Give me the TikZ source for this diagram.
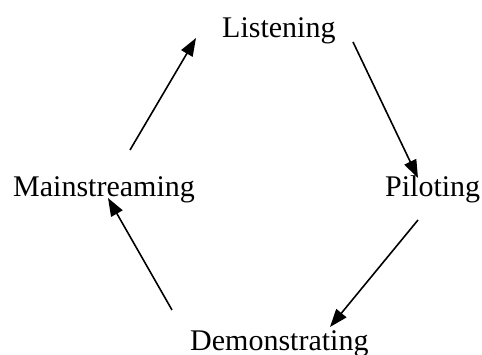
\documentclass[tikz,border=0pt]{standalone}
\usepackage{fontspec}
\setmainfont{Liberation Serif}
\usetikzlibrary{arrows.meta}
\begin{document}
\begin{tikzpicture}[x=1pt,y=-1pt,
  lbl/.style={anchor=base west,inner sep=0pt,font=\fontsize{30}{36}\selectfont},
  arr/.style={line width=1.6pt,-{Triangle[length=18pt,width=13pt]}}]
\useasboundingbox[fill=white] (0,0) rectangle (482,355);
\node[lbl] (lis) at (222,38) {Listening};
\node[lbl] (pil) at (385,197) {Piloting};
\node[lbl] (dem) at (190,350) {Demonstrating};
\node[lbl] (mai) at (13,197) {Mainstreaming};
\coordinate (a1s) at (130,150); \coordinate (a1e) at (196,38);
\coordinate (a2s) at (353,42);  \coordinate (a2e) at (418,178);
\coordinate (a3s) at (418,220); \coordinate (a3e) at (330,327);
\coordinate (a4s) at (172,310); \coordinate (a4e) at (108,198);
\draw[arr] (a1s) -- (a1e);
\draw[arr] (a2s) -- (a2e);
\draw[arr] (a3s) -- (a3e);
\draw[arr] (a4s) -- (a4e);
\end{tikzpicture}
\end{document}
